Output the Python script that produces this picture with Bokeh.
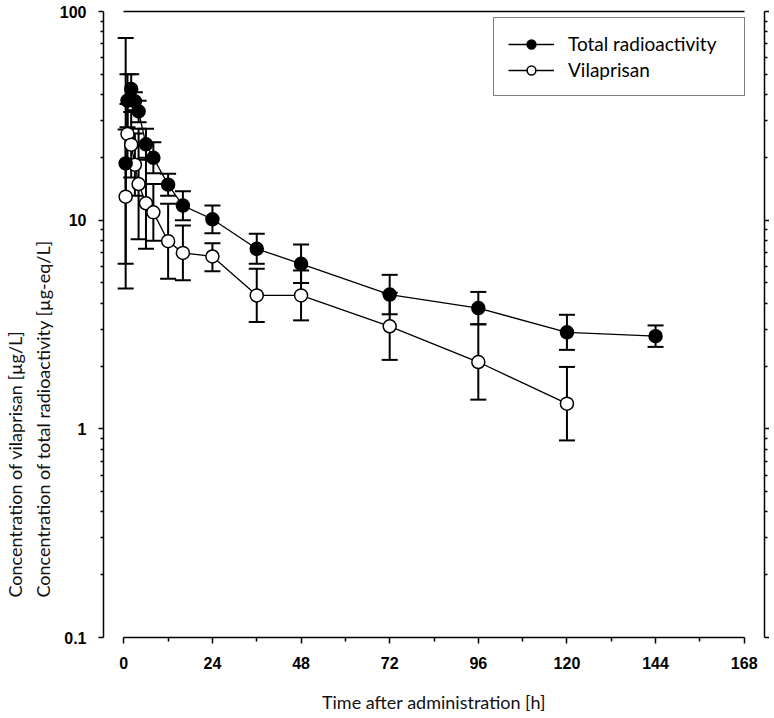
from bokeh.plotting import figure
from bokeh.models import (ColumnDataSource, Whisker, TeeHead, LogAxis, LinearAxis,
                          FixedTicker, Legend, LegendItem, Range1d, Title)
from bokeh.embed import file_html
from bokeh.resources import INLINE

# ---- data ----
time_total = [0.5, 1, 2, 3, 4, 6, 8, 12, 16, 24, 36, 48, 72, 96, 120, 144]
total = [18.7, 37.4, 42.5, 37.1, 33.2, 23.1, 19.9, 14.8, 11.75, 10.1, 7.29, 6.18, 4.40, 3.79, 2.90, 2.78]
total_upper = [74.6, 50.1, 50.1, 41.0, 37.4, 27.4, 23.6, 16.7, 13.75, 11.75, 8.60, 7.64, 5.47, 4.53, 3.52, 3.13]
total_lower = [4.7, 27.9, 36.1, 33.6, 29.5, 19.5, 16.8, 13.1, 10.0, 8.66, 6.18, 5.0, 3.54, 3.17, 2.39, 2.47]

time_vila = [0.5, 1, 2, 3, 4, 6, 8, 12, 16, 24, 36, 48, 72, 96, 120]
vila = [12.96, 25.9, 23.0, 18.45, 14.9, 12.05, 10.9, 7.93, 6.97, 6.70, 4.36, 4.36, 3.10, 2.09, 1.32]
vila_upper = [27.2, 36.0, 33.0, 26.0, 27.4, 19.9, 14.9, 12.0, 9.42, 7.75, 5.85, 5.74, 4.49, 3.17, 1.98]
vila_lower = [6.18, 18.6, 16.0, 13.1, 8.1, 7.3, 7.97, 5.24, 5.16, 5.69, 3.25, 3.31, 2.14, 1.38, 0.88]

x_ticks = [0, 24, 48, 72, 96, 120, 144, 168]
x_minor = [12, 36, 60, 84, 108, 132, 156]
y_ticks = [0.1, 1, 10, 100]
y_tick_labels = ["0.1", "1", "10", "100"]
y_minor = [m * d for d in (0.1, 1, 10) for m in range(2, 10)]

x_title = "Time after administration [h]"
y_title_1 = "Concentration of vilaprisan [\u00b5g/L]"
y_title_2 = "Concentration of total radioactivity [\u00b5g-eq/L]"
series_names = ["Total radioactivity", "Vilaprisan"]

src_t = ColumnDataSource(dict(t=time_total, v=total, up=total_upper, lo=total_lower))
src_v = ColumnDataSource(dict(t=time_vila, v=vila, up=vila_upper, lo=vila_lower))

LABEL_FONT = "Lato"
TICK_FONT = "Liberation Sans"

p = figure(frame_width=661, frame_height=626, output_backend="svg", toolbar_location=None,
           x_range=Range1d(-5.5, 173.5), y_range=Range1d(0.1, 100), y_axis_type="log",
           min_border_left=98, min_border_top=11, min_border_right=2, min_border_bottom=66,
           title=None)
p.outline_line_color = None
p.grid.visible = False
p.background_fill_color = "white"
p.border_fill_color = "white"

# x axis (below)
xa = p.xaxis[0]
xa.ticker = FixedTicker(ticks=x_ticks, minor_ticks=x_minor)
xa.bounds = (0, 168)
xa.axis_line_width = 1.5
xa.major_tick_line_width = 1.5
xa.minor_tick_line_width = 1.5
xa.major_tick_in = 0
xa.major_tick_out = 6
xa.minor_tick_in = 0
xa.minor_tick_out = 4
xa.major_label_text_font = TICK_FONT
xa.major_label_text_font_style = "bold"
xa.major_label_text_font_size = "16px"
xa.major_label_text_color = "black"
xa.major_label_standoff = 13
xa.axis_label = x_title
xa.axis_label_text_font = LABEL_FONT
xa.axis_label_text_font_style = "normal"
xa.axis_label_text_font_size = "18px"
xa.axis_label_text_color = "#111111"
xa.axis_label_standoff = 19

# y axis (left)
ya = p.yaxis[0]
ya.ticker = FixedTicker(ticks=y_ticks, minor_ticks=y_minor)
ya.major_label_overrides = {t: s for t, s in zip(y_ticks, y_tick_labels)}
ya.axis_line_width = 1.5
ya.major_tick_line_width = 1.5
ya.minor_tick_line_width = 1.5
ya.major_tick_in = 0
ya.major_tick_out = 5
ya.minor_tick_in = 0
ya.minor_tick_out = 3
ya.major_label_text_font = TICK_FONT
ya.major_label_text_font_style = "bold"
ya.major_label_text_font_size = "16px"
ya.major_label_text_color = "black"
ya.major_label_standoff = 12

# y titles (two lines, bottom aligned); first in list = closest to frame
yt1 = Title(text=y_title_1, align="left", offset=40, text_font=LABEL_FONT,
            text_font_size="18px", text_font_style="normal", text_color="#111111",
            standoff=2, text_line_height=0.9)
yt2 = Title(text=y_title_2, align="left", offset=40, text_font=LABEL_FONT,
            text_font_size="18px", text_font_style="normal", text_color="#111111",
            standoff=6, text_line_height=0.9)
p.left = [ya, yt2, yt1]

# right axis (no labels)
ra = LogAxis(ticker=FixedTicker(ticks=y_ticks, minor_ticks=y_minor))
ra.axis_line_width = 1.5
ra.major_tick_line_width = 1.5
ra.minor_tick_line_width = 1.5
ra.major_tick_in = 0
ra.major_tick_out = 5
ra.minor_tick_in = 0
ra.minor_tick_out = 3
ra.major_label_overrides = {t: "" for t in y_ticks}
ra.major_label_text_font_size = "1px"
ra.major_label_text_color = None
ra.major_label_standoff = 0
p.add_layout(ra, "right")

# top line (axis without ticks)
ta = LinearAxis(ticker=FixedTicker(ticks=[0, 168]), bounds=(0, 168))
ta.axis_line_width = 1.5
ta.major_tick_in = 0
ta.major_tick_out = 0
ta.minor_tick_out = 0
ta.major_label_overrides = {0: "", 168: ""}
ta.major_label_text_font_size = "1px"
ta.major_label_text_color = None
ta.major_label_standoff = 0
p.add_layout(ta, "above")

# error bars
for src in (src_v, src_t):
    w = Whisker(source=src, base="t", upper="up", lower="lo", dimension="height",
                line_color="black", line_width=2,
                upper_head=TeeHead(size=16, line_width=2, line_color="black"),
                lower_head=TeeHead(size=16, line_width=2, line_color="black"))
    p.add_layout(w)

lv = p.line("t", "v", source=src_v, line_color="black", line_width=1.3)
lt = p.line("t", "v", source=src_t, line_color="black", line_width=1.3)
sv = p.scatter("t", "v", source=src_v, size=13, fill_color="white", line_color="black", line_width=1.5)
st = p.scatter("t", "v", source=src_t, size=13, fill_color="black", line_color="black", line_width=1.5)

legend = Legend(items=[LegendItem(label=series_names[0], renderers=[lt, st]),
                       LegendItem(label=series_names[1], renderers=[lv, sv])],
                location=(390, 541))
legend.border_line_color = "black"
legend.border_line_width = 1.5
legend.background_fill_alpha = 1
legend.label_text_font = LABEL_FONT
legend.label_text_font_size = "19px"
legend.label_text_color = "black"
legend.glyph_width = 46
legend.glyph_height = 22
legend.label_height = 22
legend.label_width = 162
legend.spacing = 3
legend.padding = 14
legend.label_standoff = 14
legend.margin = 0
p.add_layout(legend, "center")

open("out.html", "w").write(file_html(p, INLINE))
